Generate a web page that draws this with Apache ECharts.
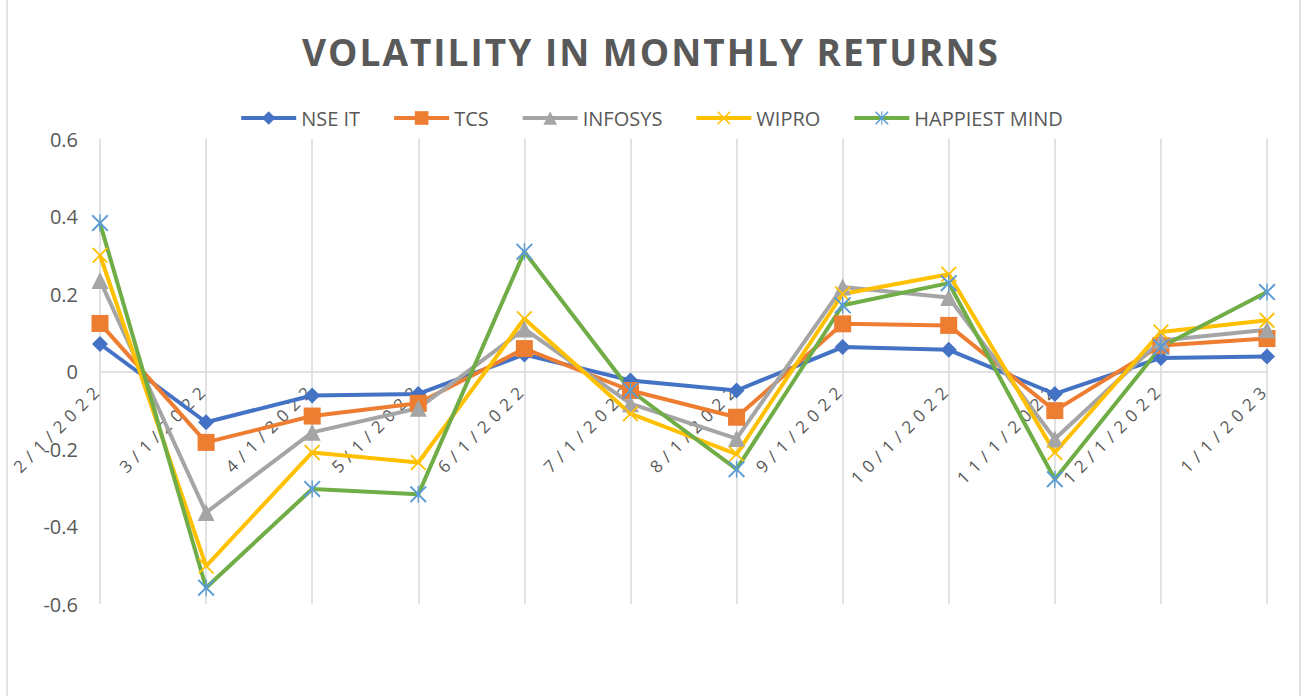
<!DOCTYPE html>
<html>
<head>
<meta charset="utf-8">
<script src="https://cdn.jsdelivr.net/npm/echarts@6/dist/echarts.min.js"></script>
<style>
html,body{margin:0;padding:0;background:#fff;}
#chart{width:1302px;height:696px;}
</style>
</head>
<body>
<div id="chart"></div>
<script>
const categories = ['2/1/2022','3/1/2022','4/1/2022','5/1/2022','6/1/2022','7/1/2022','8/1/2022','9/1/2022','10/1/2022','11/1/2022','12/1/2022','1/1/2023'];
const nseIt     = [0.071, -0.131, -0.062, -0.058, 0.044, -0.023, -0.049, 0.063, 0.056, -0.058, 0.035, 0.039];
const tcs       = [0.124, -0.183, -0.115, -0.082, 0.059, -0.049, -0.118, 0.123, 0.119, -0.101, 0.067, 0.085];
const infosys   = [0.235, -0.364, -0.157, -0.095, 0.110, -0.083, -0.173, 0.218, 0.191, -0.174, 0.080, 0.108];
const wipro     = [0.300, -0.502, -0.209, -0.235, 0.136, -0.109, -0.213, 0.200, 0.251, -0.209, 0.102, 0.132];
const happiest  = [0.383, -0.558, -0.303, -0.317, 0.309, -0.049, -0.252, 0.171, 0.228, -0.278, 0.063, 0.205];
const yTicks = [-0.6, -0.4, -0.2, 0, 0.2, 0.4, 0.6];

const X_PATH = 'path://M0,1.6 L1.6,0 L10,8.4 L18.4,0 L20,1.6 L11.6,10 L20,18.4 L18.4,20 L10,11.6 L1.6,20 L0,18.4 L8.4,10 Z';
const STAR_PATH = X_PATH + ' M9.2,0 L10.8,0 L10.8,20 L9.2,20 Z';

const GRID_TOP = 139, GRID_BOTTOM = 92, H = 696;
const plotH = H - GRID_TOP - GRID_BOTTOM;
const yMin = yTicks[0], yMax = yTicks[yTicks.length - 1];
// move the category axis up to the zero line
const zeroOffset = -plotH * (0 - yMin) / (yMax - yMin);

const chart = echarts.init(document.getElementById('chart'), null, {renderer: 'svg'});
const font = "'Open Sans', sans-serif";
function mk(name, data, lineColor, markColor, symbol, size) {
  return {
    name: name, type: 'line', data: data,
    symbol: symbol, symbolSize: size, showAllSymbol: true,
    lineStyle: {color: lineColor, width: 4},
    itemStyle: {color: markColor, borderWidth: 0},
    emphasis: {disabled: true}
  };
}
chart.setOption({
  animation: false,
  backgroundColor: '#fff',
  title: {
    text: 'VOLATILITY IN MONTHLY RETURNS',
    left: 'center', top: 28,
    textStyle: {fontFamily: font, fontWeight: 'bold', fontSize: 37, color: '#595959'}
  },
  legend: {
    top: 103, left: 'center',
    itemWidth: 55, itemHeight: 17, itemGap: 32,
    lineStyle: {width: 4},
    textStyle: {fontFamily: font, fontSize: 20, color: '#595959'},
    data: ['NSE IT','TCS','INFOSYS','WIPRO','HAPPIEST MIND']
  },
  grid: {left: 100, right: 35, top: GRID_TOP, bottom: GRID_BOTTOM, containLabel: false},
  xAxis: {
    type: 'category', data: categories, boundaryGap: false,
    offset: zeroOffset,
    axisLine: {onZero: false, lineStyle: {color: '#d9d9d9', width: 1.5}},
    axisTick: {show: false},
    splitLine: {show: true, lineStyle: {color: '#d9d9d9', width: 1.5}},
    axisLabel: {interval: 0, rotate: 45, margin: 14, fontFamily: font, fontSize: 17, color: '#595959'}
  },
  yAxis: {
    type: 'value', min: yMin, max: yMax, interval: 0.2,
    axisLine: {show: false}, axisTick: {show: false}, splitLine: {show: false},
    axisLabel: {margin: 22, fontFamily: font, fontSize: 20, color: '#595959',
      formatter: v => String(Math.round(v*10)/10)}
  },
  graphic: [{type: 'rect', shape: {x: 7, y: -5, width: 1293, height: 710}, style: {fill: 'none', stroke: '#d9d9d9', lineWidth: 1.5}, silent: true, z: -10}],
  series: [
    mk('NSE IT', nseIt, '#4472C4', '#4472C4', 'diamond', 16),
    mk('TCS', tcs, '#ED7D31', '#ED7D31', 'rect', 17),
    mk('INFOSYS', infosys, '#A5A5A5', '#A5A5A5', 'triangle', 17),
    mk('WIPRO', wipro, '#FFC000', '#FFC000', X_PATH, 16),
    mk('HAPPIEST MIND', happiest, '#70AD47', '#5B9BD5', STAR_PATH, 17)
  ]
});

function spaceText() {
  document.querySelectorAll('#chart svg text').forEach(t => {
    const s = t.textContent;
    if (/^\d+\/\d+\/\d+$/.test(s)) t.style.letterSpacing = '6px';
    else if (s === 'VOLATILITY IN MONTHLY RETURNS') t.style.letterSpacing = '2px';
  });
}
chart.on('finished', spaceText);
spaceText();
</script>
</body>
</html>
